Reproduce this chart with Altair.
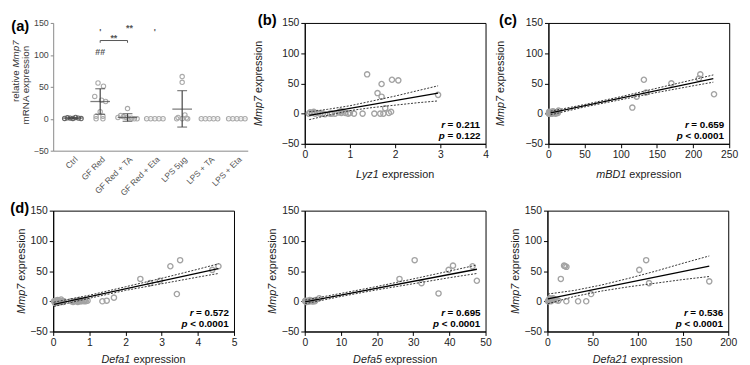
import json
import altair as alt
import pandas as pd

FONT = "Liberation Sans"
ONE = pd.DataFrame({"k": [0]})

# ---------------- Panel (a) data ----------------
a_categories = ["Ctrl", "GF Red", "GF Red + TA", "GF Red + Eta", "LPS 5µg", "LPS + TA", "LPS + Eta"]
a_point_group = [0, 0, 0, 0, 0, 0, 0,
                 1, 1, 1, 1, 1, 1, 1, 1, 1, 1,
                 2, 2, 2, 2, 2, 2, 2, 2, 2,
                 3, 3, 3, 3, 3,
                 4, 4, 4, 4, 4, 4, 4, 4,
                 5, 5, 5, 5, 5,
                 6, 6, 6, 6, 6]
a_point_offset = [-0.3, -0.2, -0.1, 0, 0.1, 0.2, 0.3,
                  -0.08, 0.12, -0.2, 0.05, 0.2, 0, -0.15, 0.1, -0.15, 0.1,
                  0, -0.25, -0.15, -0.05, 0.05, 0.15, 0.25, 0.35, -0.35,
                  -0.3, -0.15, 0, 0.15, 0.3,
                  0, 0, 0.1, -0.15, 0.15, -0.2, 0, 0.2,
                  -0.3, -0.15, 0, 0.15, 0.3,
                  -0.3, -0.15, 0, 0.15, 0.3]
a_point_value = [0.5, 1.5, 1, 0.5, 2, 1, 0.3,
                 56, 51, 35, 29, 27, 11, 4, 4, 0, 0,
                 16, 5, 3, 2, 1, 1, 0, 0, 2,
                 0, 0, 0, 0, 0,
                 66, 57, 6, 2, 1, 0, 0, 0,
                 0, 0, 0, 0, 0,
                 0, 0, 0, 0, 0]
a_mean = [1, 27, 2, 0, 15, 0, 0]
a_sd_low = [0, 7, -4, 0, -13, 0, 0]
a_sd_high = [2, 47, 8, 0, 44, 0, 0]
a_sig_text = ["##", "**", "**", "'", "'"]
a_sig_x = [1, 1.5, 2.07, 1, 3]
a_sig_y = [104, 127, 142, 135, 135]
a_bracket_x = [1, 1, 2, 2]
a_bracket_y = [119, 122.5, 122.5, 119]

# ---------------- Panel (b) Lyz1 ----------------
b_x = [0.09, 0.16, 0.23, 0.34, 0.45, 0.56, 0.67, 0.81, 0.96, 1.09, 1.28, 1.54, 1.67, 1.74, 1.86, 1.91,
       0.12, 0.20, 0.28, 0.75, 0.80, 0.85, 0.90, 0.60, 1.00, 0.40,
       1.38, 1.70, 1.93, 2.07, 1.61, 1.70, 1.78, 2.95]
b_y = [0, 1, 0, 0, -1, 0, 0, 1, 0, 0, 0, 0, 0, 0, 1, 3,
       2, 3, 1, 2, 4, 3, 1, 0, 1, 0,
       65, 49, 56, 55, 34, 28, 9, 31]
b_fit_x = [0.1, 2.95]
b_fit_y = [-3, 34]
b_ci_x = [0.1, 0.5, 1.0, 1.5, 2.0, 2.5, 2.95]
b_ci_up = [3, 7, 13, 21, 29, 38, 46]
b_ci_lo = [-10, -3, 5, 10, 14, 18, 21]

# ---------------- Panel (c) mBD1 ----------------
c_x = [0.5, 1, 1.5, 2, 2.5, 3, 3.5, 4, 5, 6, 7, 8, 9, 10, 12, 14, 13, 1, 2, 4, 6,
       116, 122, 132, 135, 170, 208, 210, 229]
c_y = [0, 1, 0, 2, 0, 1, 0, 2, 0, 1, 3, 1, 2, 0, 2, 5, 1, 3, 0, 1, 4,
       10, 28, 56, 35, 50, 58, 65, 32]
c_fit_x = [3, 228]
c_fit_y = [1, 58]
c_ci_x = [3, 50, 100, 150, 200, 228]
c_ci_up = [4, 15, 28, 42, 56, 64]
c_ci_lo = [-2, 11, 23, 35, 46, 52]

# ---------------- Panel (d) Defa1 ----------------
d_x = [0.02, 0.05, 0.08, 0.10, 0.12, 0.15, 0.18, 0.20, 0.22, 0.25, 0.28, 0.30, 0.05, 0.10, 0.15, 0.20,
       0.50, 0.55, 0.60, 0.65, 0.70, 0.72, 0.75, 0.80, 0.85, 0.88, 0.90, 0.95, 0.68, 0.78,
       1.36, 1.48, 1.68, 2.41, 2.68, 2.95, 3.24, 3.42, 3.51, 4.40, 4.57]
d_y = [0, -1, 1, 0, 2, -1, 0, 1, 3, 0, -1, 0, -3, 1, -2, 0,
       0, -1, 0, 1, 0, 2, 0, 1, 0, 2, 0, 1, -1, 0,
       0, 1, 6, 37, 30, 34, 58, 12, 68, 52, 58]
d_fit_x = [0.02, 4.57]
d_fit_y = [-5, 54]
d_ci_x = [0.02, 1, 2, 3, 4, 4.57]
d_ci_up = [-1.5, 10, 24, 38, 53, 62]
d_ci_lo = [-8.5, 5, 18, 29, 40, 46]

# ---------------- Panel (e) Defa5 ----------------
e_x = [0.1, 0.2, 0.3, 0.5, 0.6, 0.8, 1.0, 1.2, 1.4, 1.5, 1.8, 2.0, 2.2, 2.5, 2.8, 3.0, 0.4, 0.9, 1.6, 2.4,
       4.0, 26.2, 30.4, 32.3, 37.0, 39.8, 41.0, 46.4, 47.6]
e_y = [0, 1, 0, -1, 0, 1, 0, 0, 2, 0, 1, 0, 0, 1, 0, 2, -1, 0, 1, 0,
       5, 37, 68, 30, 13, 52, 59, 58, 34]
e_fit_x = [0.1, 47.6]
e_fit_y = [-1, 53]
e_ci_x = [0.1, 10, 20, 30, 40, 47.6]
e_ci_up = [2, 13, 24.5, 37, 50, 60]
e_ci_lo = [-4, 8, 19, 29, 39, 46]

# ---------------- Panel (f) Defa21 ----------------
f_x = [0.5, 1, 1.5, 2, 3, 4, 5, 6, 7, 8, 10, 12, 2.5, 4.5,
       14.8, 18.4, 19.5, 21.0, 20.9, 33.9, 42.9, 48.3, 101.6, 109.2, 112.4, 179]
f_y = [0, 1, 0, 3, 1, 0, 2, 5, 4, 3, 2, 1, 5, 2,
       37, 59, 58, 57, 0, 0, 0, 12, 52, 68, 30, 33]
f_fit_x = [0.5, 179]
f_fit_y = [4, 58]
f_ci_x = [0.5, 30, 60, 90, 120, 150, 179]
f_ci_up = [12, 18, 27, 38, 50, 63, 75]
f_ci_lo = [-4, 8, 17, 24, 30, 36, 41]

Y_TICKS = [-50, 0, 50, 100, 150]

# ---------------- helpers ----------------
CHAR_W = {" ": .278, ".": .278, "=": .584, "<": .584, "(": .333, ")": .333, "+": .584, "-": .333,
          "a": .556, "b": .556, "c": .5, "d": .556, "e": .556, "f": .278, "g": .556, "h": .556,
          "i": .222, "j": .222, "k": .5, "l": .222, "m": .833, "n": .556, "o": .556, "p": .556,
          "q": .556, "r": .333, "s": .5, "t": .278, "u": .556, "v": .5, "w": .722, "x": .5,
          "y": .5, "z": .5, "A": .667, "B": .667, "D": .722, "L": .556, "M": .833, "N": .722,
          "R": .722}


def tw(s, size, bold=False):
    w = sum(CHAR_W.get(ch, .556) for ch in s) * size
    return w * (1.06 if bold else 1.0)


def rich(parts, x, y, size, align="center", angle=0, bold=False, color="#222"):
    widths = [tw(t, size, bold) for t, _ in parts]
    total = sum(widths)
    off = {"center": -total / 2, "left": 0, "right": -total}[align]
    out = []
    for (t, it), w in zip(parts, widths):
        lead = len(t) - len(t.lstrip(" "))
        shown = t.strip(" ")
        start = off + tw(" " * lead, size, bold)
        out.append(
            alt.Chart(ONE).mark_text(
                text=shown, align="left", baseline="middle", dx=start, angle=angle,
                font=FONT, fontSize=size, fontStyle="italic" if it else "normal",
                fontWeight="bold" if bold else "normal", color=color,
            ).encode(x=alt.value(x), y=alt.value(y))
        )
        off += w
    return out


def frame(px_, py_, cell):
    return alt.Chart(ONE).mark_rect(opacity=0).encode(
        x=alt.value(cell[0] - px_), x2=alt.value(cell[2] - px_),
        y=alt.value(cell[1] - py_), y2=alt.value(cell[3] - py_),
    )


def scatter_panel(px_, py_, cell, xs, ys, fx, fy, cx, cup, clo, xdom, xticks, gene,
                  r_parts, p_parts, ytitle_x, xtitle_y, label=None, label_xy=None):
    W, H = 184, 123
    xaxis = alt.Axis(values=xticks, title=None, grid=False, tickSize=4, labelFontSize=10.5,
                     labelFont=FONT, labelColor="#222", domainColor="#000", tickColor="#000",
                     labelPadding=2, labelFlush=False, labelOverlap=False)
    yaxis = alt.Axis(values=Y_TICKS, title=None, grid=False, tickSize=4, labelFontSize=10.5,
                     labelFont=FONT, labelColor="#222", domainColor="#000", tickColor="#000",
                     labelPadding=2, labelFlush=False, labelOverlap=False)
    X = alt.X("x:Q", scale=alt.Scale(domain=xdom, nice=False, zero=False), axis=xaxis)
    Y = alt.Y("y:Q", scale=alt.Scale(domain=[-50, 150], nice=False, zero=False), axis=yaxis)
    pts = alt.Chart(pd.DataFrame({"x": xs, "y": ys})).mark_point(
        shape="circle", filled=False, size=28, strokeWidth=1.4, color="#a3a3a3", opacity=1
    ).encode(x=X, y=Y)
    ci_df = pd.DataFrame({"x": cx + cx, "y": cup + clo,
                          "side": ["upper"] * len(cx) + ["lower"] * len(cx)})
    ci = alt.Chart(ci_df).mark_line(color="#333", strokeWidth=1, strokeDash=[2, 1.5]).encode(
        x=X, y=Y, detail="side:N")
    fit = alt.Chart(pd.DataFrame({"x": fx, "y": fy})).mark_line(color="#000", strokeWidth=1.3).encode(
        x=X, y=Y)
    texts = rich([(gene, True), (" expression", False)], W / 2, xtitle_y, 11)
    texts += rich([("Mmp7", True), (" expression", False)], ytitle_x, H / 2, 11, angle=270)
    texts += rich(r_parts, W - 3, 104, 10, align="right", bold=True, color="#000")
    texts += rich(p_parts, W - 3, 115, 10, align="right", bold=True, color="#000")
    if label:
        texts += rich([(label, False)], label_xy[0], label_xy[1], 15, bold=True, color="#000")
    return alt.layer(frame(px_, py_, cell), pts, ci, fit, *texts).properties(
        width=W, height=H, view=alt.ViewBackground(stroke="#000", strokeWidth=1))


def panel_a():
    W, H = 198, 130
    px_, py_ = 52, 13
    cell = (8, 8, 251, 192)
    label_expr = json.dumps(a_categories, ensure_ascii=False) + "[datum.value]"
    xaxis = alt.Axis(values=list(range(len(a_categories))), labelExpr=label_expr, title=None,
                     grid=False, ticks=False, labelAngle=-45, labelFontSize=8.5, labelFont=FONT,
                     labelColor="#555", domainColor="#888", labelPadding=4, labelFlush=False,
                     labelOverlap=False)
    yaxis = alt.Axis(values=Y_TICKS, title=None, grid=False, tickSize=3, labelFontSize=9,
                     labelFont=FONT, labelColor="#444", domainColor="#888", tickColor="#888",
                     labelPadding=2, labelFlush=False, labelOverlap=False)
    xs = alt.Scale(domain=[-0.72, 6.4], nice=False, zero=False)
    ys = alt.Scale(domain=[-50, 150], nice=False, zero=False)

    def X(f):
        return alt.X(f, scale=xs, axis=xaxis)

    def Y(f):
        return alt.Y(f, scale=ys, axis=yaxis)

    pts_df = pd.DataFrame({"g": a_point_group, "off": a_point_offset, "v": a_point_value})
    pts = alt.Chart(pts_df).transform_calculate(pos="datum.g + datum.off").mark_point(
        shape="circle", filled=False, size=20, strokeWidth=1.1, opacity=1
    ).encode(
        x=X("pos:Q"), y=Y("v:Q"),
        color=alt.condition("datum.g == 0", alt.value("#666"), alt.value("#aaa")),
    )
    sum_df = pd.DataFrame({"g": list(range(len(a_categories))), "mean": a_mean,
                           "lo": a_sd_low, "hi": a_sd_high})
    base = alt.Chart(sum_df).transform_calculate(pos="datum.g")
    dark = base.transform_filter("datum.hi > datum.lo")
    light = base.transform_filter("datum.hi <= datum.lo")
    bars = dark.mark_rule(color="#444", strokeWidth=1.2).encode(x=X("pos:Q"), y=Y("lo:Q"), y2="hi:Q")
    mean_t = dark.mark_tick(orient="horizontal", size=20, thickness=1.3, color="#444").encode(
        x=X("pos:Q"), y=Y("mean:Q"))
    cap_lo = dark.mark_tick(orient="horizontal", size=10, thickness=1.2, color="#444").encode(
        x=X("pos:Q"), y=Y("lo:Q"))
    cap_hi = dark.mark_tick(orient="horizontal", size=10, thickness=1.2, color="#444").encode(
        x=X("pos:Q"), y=Y("hi:Q"))
    mean_l = light.mark_tick(orient="horizontal", size=20, thickness=1, color="#c8c8c8").encode(
        x=X("pos:Q"), y=Y("mean:Q"))
    sig = alt.Chart(pd.DataFrame({"t": a_sig_text, "x": a_sig_x, "y": a_sig_y})).mark_text(
        font=FONT, fontSize=9, color="#555", baseline="middle", fontWeight="bold"
    ).encode(x=X("x:Q"), y=Y("y:Q"), text="t:N")
    brk = alt.Chart(pd.DataFrame({"x": a_bracket_x, "y": a_bracket_y, "o": [0, 1, 2, 3]})).mark_line(
        color="#555", strokeWidth=1).encode(x=X("x:Q"), y=Y("y:Q"), order="o:Q")
    texts = rich([("relative ", False), ("Mmp7", True)], -38, 49, 10, angle=270, color="#333")
    texts += rich([("mRNA expression", False)], -28, 63, 10, angle=270, color="#333")
    texts += rich([("(a)", False)], -33, 3, 15, bold=True, color="#000")
    return alt.layer(frame(px_, py_, cell), pts, bars, mean_t, cap_lo, cap_hi, mean_l, sig, brk,
                     *texts).properties(width=W, height=H)


pa = panel_a()
pb = scatter_panel(306, 19, (251, 8, 495, 192), b_x, b_y, b_fit_x, b_fit_y, b_ci_x, b_ci_up, b_ci_lo,
                   [0, 4], [0, 1, 2, 3, 4], "Lyz1", [("r", True), (" = 0.211", False)],
                   [("p", True), (" = 0.122", False)], -47, 155, "(b)", (-38, -3))
pc = scatter_panel(552, 19, (495, 8, 748, 192), c_x, c_y, c_fit_x, c_fit_y, c_ci_x, c_ci_up, c_ci_lo,
                   [0, 250], [0, 50, 100, 150, 200, 250], "mBD1", [("r", True), (" = 0.659", False)],
                   [("p", True), (" < 0.0001", False)], -48, 155, "(c)", (-41, -3))
pd_ = scatter_panel(53, 203, (8, 192, 250, 363), d_x, d_y, d_fit_x, d_fit_y, d_ci_x, d_ci_up, d_ci_lo,
                    [0, 5], [0, 1, 2, 3, 4, 5], "Defa1", [("r", True), (" = 0.572", False)],
                    [("p", True), (" < 0.0001", False)], -32, 152, "(d)", (-34, -3))
pe = scatter_panel(307, 203, (250, 192, 505, 363), e_x, e_y, e_fit_x, e_fit_y, e_ci_x, e_ci_up, e_ci_lo,
                   [0, 50], [0, 10, 20, 30, 40, 50], "Defa5", [("r", True), (" = 0.695", False)],
                   [("p", True), (" < 0.0001", False)], -32, 152)
pf = scatter_panel(552, 203, (505, 192, 748, 363), f_x, f_y, f_fit_x, f_fit_y, f_ci_x, f_ci_up, f_ci_lo,
                   [0, 200], [0, 50, 100, 150, 200], "Defa21", [("r", True), (" = 0.536", False)],
                   [("p", True), (" < 0.0001", False)], -32, 152)

row1 = alt.hconcat(pa, pb, pc, spacing=0)
row2 = alt.hconcat(pd_, pe, pf, spacing=0)
chart = alt.vconcat(row1, row2, spacing=0).properties(padding=0).configure(
    font=FONT, view=alt.ViewConfig(stroke=None))

chart.save("out.html", embed_options={"renderer": "svg", "actions": False})
